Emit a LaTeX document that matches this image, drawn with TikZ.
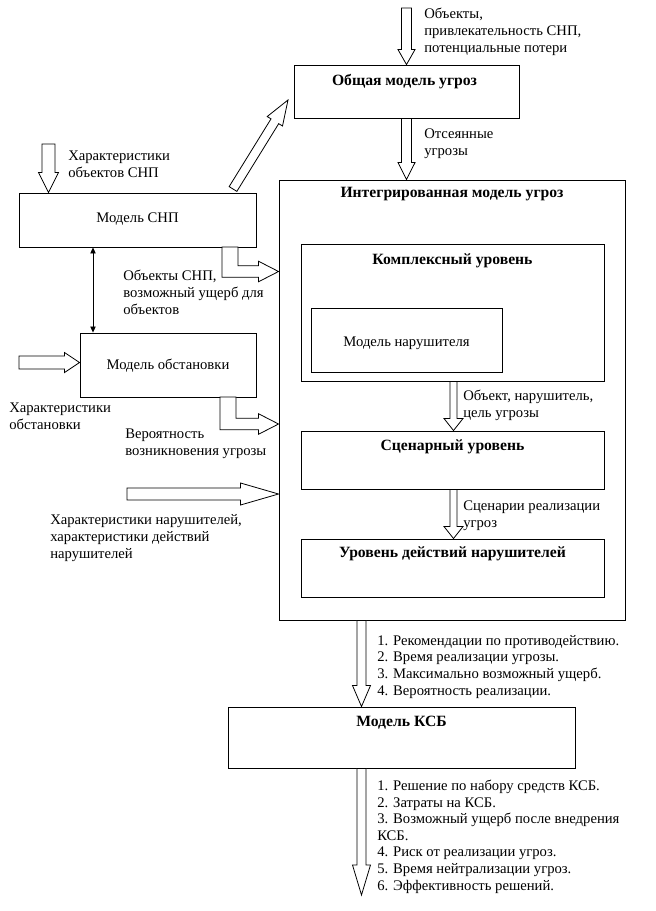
\documentclass[tikz,border=0pt]{standalone}
\usepackage{fontspec}
\setmainfont{Liberation Serif}
\usetikzlibrary{arrows.meta,calc,fit,positioning}

% полая (контурная) стрелка: #1 длина головки, #2 полуширина стержня, #3 полуширина головки, #4 начало, #5 острие
\newcommand{\blockarrow}[5]{%
  \draw[blockline] let \p1=(#4), \p2=(#5), \n1={atan2((\y2)-(\y1),(\x2)-(\x1))} in
    ($(\p1)+(\n1+90:#2)$) -- ($(\p2)+(\n1+180:#1)+(\n1+90:#2)$) -- ($(\p2)+(\n1+180:#1)+(\n1+90:#3)$) -- (\p2)
    -- ($(\p2)+(\n1+180:#1)+(\n1-90:#3)$) -- ($(\p2)+(\n1+180:#1)+(\n1-90:#2)$) -- ($(\p1)+(\n1-90:#2)$) -- cycle;}

% Г-образная полая стрелка: вниз от блока, затем вправо к острию
\newcommand{\lblock}[2]{%
  \draw[blockline] let \p1=(#1), \p2=(#2) in
    (\x1-6pt,\y1) -- (\x1-6pt,\y2-4.3pt) -- (\x2-15pt,\y2-4.3pt) -- (\x2-15pt,\y2-7.7pt) -- (\p2)
    -- (\x2-15pt,\y2+7.7pt) -- (\x2-15pt,\y2+4.3pt) -- (\x1+6pt,\y2+4.3pt) -- (\x1+6pt,\y1) -- cycle;}

\tikzset{
  box/.style={draw, line width=0.7pt, inner sep=0pt},
  title/.style={font=\fontsize{11.75}{14}\selectfont\bfseries, anchor=base, inner sep=0pt},
  boxname/.style={anchor=base, inner sep=0pt},
  txt/.style={align=left, anchor=base west, inner sep=0pt}, % base = последняя строка
  blockline/.style={draw, line width=0.6pt, fill=white, line join=miter},
}

\begin{document}
\begin{tikzpicture}[x=0.75pt, y=-0.75pt, font=\fontsize{11}{12.45}\selectfont]
  \useasboundingbox (0,0) rectangle (656,911);

  % блоки моделей
  \node[box, fit={(294,65) (519,118)}] (gen) {};
  \node[box, fit={(279,180) (625,620)}] (int) {};
  \node[box, fit={(301,244) (604,381)}] (kompl) {};
  \node[box, fit={(311,308) (502,372)}] (narush) {};
  \node[box, fit={(301,431) (604,489)}] (scen) {};
  \node[box, fit={(301,539) (604,597)}] (deyst) {};
  \node[box, fit={(228,707) (575,768)}] (ksb) {};
  \node[box, fit={(19,193) (256,247)}] (snp) {};
  \node[box, fit={(80,333) (256,397)}] (obst) {};

  % заголовки блоков
  \node[title] (genT) at ($(gen.north)+(-2,21)$) {Общая модель угроз};
  \node[title] (intT) at ($(int.north)+(0,17.5)$) {Интегрированная модель угроз};
  \node[title] (komplT) at ($(kompl.north)+(0,20.5)$) {Комплексный уровень};
  \node[title] (scenT) at ($(scen.north)+(0,19.5)$) {Сценарный уровень};
  \node[title] (deystT) at ($(deyst.north)+(0,18.5)$) {Уровень действий нарушителей};
  \node[title] (ksbT) at ($(ksb.north)+(0,19.5)$) {Модель КСБ};
  \node[boxname] (snpT) at ($(snp.center)+(0,2.5)$) {Модель СНП};
  \node[boxname] (obstT) at ($(obst.center)+(0,4.5)$) {Модель обстановки};
  \node[boxname] (narushT) at ($(narush.center)+(0,6.5)$) {Модель нарушителя};

  % свободные концы стрелок
  \coordinate (genin) at (406.5,8);
  \coordinate (snpin) at (48.5,144);
  \coordinate (obstin) at (19,362.5);
  \coordinate (narin) at (127,494);
  \coordinate (diagA) at (233,189);
  \coordinate (diagB) at (288,100);
  \coordinate (lvl) at (453.5,0);
  \coordinate (ksbx) at (361.5,0);
  \coordinate (ksbout) at (361.5,895);
  \coordinate (link) at (93,0);

  % полые стрелки
  \blockarrow{11.25pt}{3.75pt}{6.4pt}{genin}{gen.north -| genin}
  \blockarrow{12.75pt}{3.75pt}{6.4pt}{gen.south -| genin}{int.north -| genin}
  \blockarrow{15pt}{4.9pt}{7.5pt}{snpin}{snp.north -| snpin}
  \blockarrow{18.75pt}{3.4pt}{6.75pt}{diagA}{diagB}
  \blockarrow{11.25pt}{4.9pt}{7.5pt}{obstin}{obst.west |- obstin}
  \blockarrow{28.5pt}{4.5pt}{8.25pt}{narin}{int.west |- narin}
  \blockarrow{9pt}{2.6pt}{7.1pt}{kompl.south -| lvl}{scen.north -| lvl}
  \blockarrow{9pt}{2.6pt}{7.1pt}{scen.south -| lvl}{deyst.north -| lvl}
  \blockarrow{15.75pt}{3.4pt}{6.75pt}{int.south -| ksbx}{ksb.north -| ksbx}
  \blockarrow{22.5pt}{3.4pt}{6.75pt}{ksb.south -| ksbx}{ksbout}

  % выходы моделей СНП и обстановки
  \lblock{230,247}{int.west |- 0,271.5}
  \lblock{228,397}{int.west |- 0,424}

  % связь моделей СНП и обстановки
  \draw[{Triangle[length=4.5pt,width=4pt]}-{Triangle[length=4.5pt,width=4pt]}, line width=0.6pt]
    (link |- snp.south) -- (link |- obst.north);

  % подписи (координата = базовая линия последней строки)
  \node[txt] (t1) at (424,52) {Объекты,\\привлекательность СНП,\\потенциальные потери};
  \node[txt] (t2) at (424,155) {Отсеянные\\угрозы};
  \node[txt] (t3) at (68,177) {Характеристики\\объектов СНП};
  \node[txt] (t4) at (123,314) {Объекты СНП,\\возможный ущерб для\\объектов};
  \node[txt] (t5) at (9,429) {Характеристики\\обстановки};
  \node[txt] (t6) at (125,455) {Вероятность\\возникновения угрозы};
  \node[txt] (t7) at (50,558) {Характеристики нарушителей,\\характеристики действий\\нарушителей};
  \node[txt] (t8) at (463,417) {Объект, нарушитель,\\цель угрозы};
  \node[txt] (t9) at (463,527) {Сценарии реализации\\угроз};
  \node[txt] (t10) at (377,695) {1. Рекомендации по противодействию.\\2. Время реализации угрозы.\\3. Максимально возможный ущерб.\\4. Вероятность реализации.};
  \node[txt] (t11) at (377,890) {1. Решение по набору средств КСБ.\\2. Затраты на КСБ.\\3. Возможный ущерб после внедрения\\КСБ.\\4. Риск от реализации угроз.\\5. Время нейтрализации угроз.\\6. Эффективность решений.};
\end{tikzpicture}
\end{document}
